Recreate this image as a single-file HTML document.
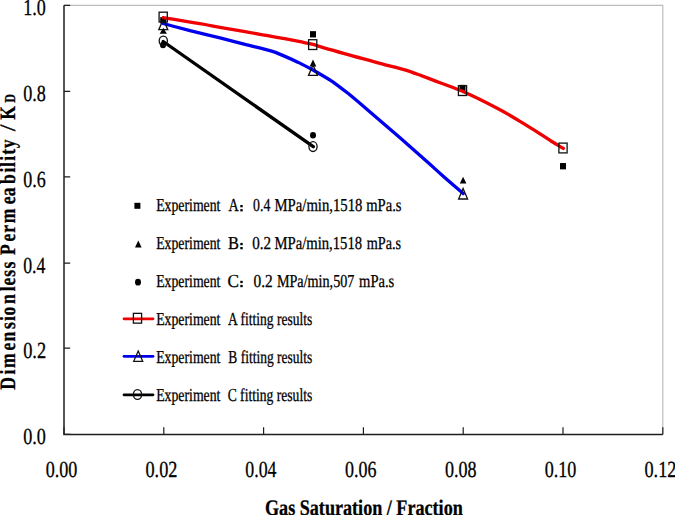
<!DOCTYPE html>
<html><head><meta charset="utf-8"><style>
html,body{margin:0;padding:0;background:#fff;}
svg{display:block;}
text{font-family:"Liberation Serif",serif;fill:#000;stroke:#000;stroke-width:0.3px;text-rendering:geometricPrecision;}
</style></head><body>
<svg width="675" height="515" viewBox="0 0 675 515">
<path d="M64.0 5.3H662.8V434.4" fill="none" stroke="#bdbdbd" stroke-width="1.2"/>
<path d="M64.0 5.3V434.4H662.8" fill="none" stroke="#1e1e1e" stroke-width="1.5"/>
<path d="M64.0 434.40h6.2 M64.0 348.20h6.2 M64.0 263.20h6.2 M64.0 176.90h6.2 M64.0 91.40h6.2 M64.0 5.30h6.2 M64.00 434.4v-7.2 M163.80 434.4v-7.2 M263.60 434.4v-7.2 M363.40 434.4v-7.2 M463.20 434.4v-7.2 M563.00 434.4v-7.2 M662.80 434.4v-7.2" stroke="#1e1e1e" stroke-width="1.2"/>
<text x="23.18" y="444.20" font-size="23" textLength="22.65" lengthAdjust="spacingAndGlyphs">0.0</text>
<text x="23.17" y="358.00" font-size="23" textLength="22.94" lengthAdjust="spacingAndGlyphs">0.2</text>
<text x="23.19" y="273.00" font-size="23" textLength="22.18" lengthAdjust="spacingAndGlyphs">0.4</text>
<text x="23.18" y="186.70" font-size="23" textLength="22.46" lengthAdjust="spacingAndGlyphs">0.6</text>
<text x="23.18" y="101.20" font-size="23" textLength="22.65" lengthAdjust="spacingAndGlyphs">0.8</text>
<text x="23.27" y="15.10" font-size="23" textLength="22.56" lengthAdjust="spacingAndGlyphs">1.0</text>
<text x="45.68" y="477.00" font-size="23" textLength="31.65" lengthAdjust="spacingAndGlyphs">0.00</text>
<text x="145.47" y="477.00" font-size="23" textLength="31.93" lengthAdjust="spacingAndGlyphs">0.02</text>
<text x="245.29" y="477.00" font-size="23" textLength="31.18" lengthAdjust="spacingAndGlyphs">0.04</text>
<text x="345.08" y="477.00" font-size="23" textLength="31.46" lengthAdjust="spacingAndGlyphs">0.06</text>
<text x="444.88" y="477.00" font-size="23" textLength="31.65" lengthAdjust="spacingAndGlyphs">0.08</text>
<text x="544.68" y="477.00" font-size="23" textLength="31.65" lengthAdjust="spacingAndGlyphs">0.10</text>
<text x="644.47" y="477.00" font-size="23" textLength="31.93" lengthAdjust="spacingAndGlyphs">0.12</text>
<text x="264.99" y="514.90" font-size="22.2" font-weight="bold" textLength="197.81" lengthAdjust="spacingAndGlyphs">Gas Saturation / Fraction</text>
<rect x="160.20" y="17.15" width="6" height="6.3" fill="#000"/>
<rect x="310.00" y="31.15" width="6" height="6.3" fill="#000"/>
<rect x="459.50" y="84.85" width="6" height="6.3" fill="#000"/>
<rect x="560.00" y="163.05" width="6" height="6.3" fill="#000"/>
<path d="M163.30 27.80L166.90 33.80H159.70Z" fill="#000"/>
<path d="M313.00 59.40L316.30 66.50H309.70Z" fill="#000"/>
<path d="M463.10 176.70L466.40 183.60H459.80Z" fill="#000"/>
<ellipse cx="163.00" cy="45.00" rx="3" ry="3.3" fill="#000"/>
<ellipse cx="313.00" cy="135.30" rx="3" ry="3.3" fill="#000"/>
<path d="M163.2,17.6C177.13,19.90 191.07,22.03 205,24.5C210.00,25.44 215.00,26.45 220,27.4C233.33,29.82 246.67,31.95 260,34.3C273.33,36.72 286.67,39.10 300,41.7C304.33,42.59 308.67,43.32 313,44.4C315.33,45.08 317.67,45.87 320,46.6C340.00,52.57 360.00,57.87 380,63.4C390.10,66.15 400.20,68.55 410.3,71.6C420.20,75.00 430.10,78.97 440,82.7C447.50,85.55 455.00,88.22 462.5,91.3C468.87,94.14 475.23,97.21 481.6,100.3C489.40,104.24 497.20,108.25 505,112.5C510.00,115.36 515.00,118.32 520,121.3C525.17,124.45 530.33,127.65 535.5,130.9C540.67,134.22 545.83,137.72 551,141C555.10,143.52 559.20,145.93 563.3,148.4" fill="none" stroke="#f00000" stroke-width="3.3" stroke-linejoin="round" stroke-linecap="round"/>
<path d="M163.2,23.5C172.13,25.90 181.07,28.37 190,30.7C200.00,33.15 210.00,35.36 220,37.8C228.33,39.95 236.67,42.20 245,44.4C255.17,47.07 265.33,49.22 275.5,52.4C283.10,55.45 290.70,58.89 298.3,62.4C303.20,64.86 308.10,67.38 313,70C319.50,73.72 326.00,77.44 332.5,81.6C338.07,85.62 343.63,89.97 349.2,94.3C357.60,101.21 366.00,108.54 374.4,115.7C382.93,123.04 391.47,130.39 400,137.8C410.00,146.58 420.00,155.38 430,164.3C434.40,168.28 438.80,172.34 443.2,176.3C449.87,182.16 456.53,187.83 463.2,193.6" fill="none" stroke="#0000f0" stroke-width="3.3" stroke-linejoin="round" stroke-linecap="round"/>
<path d="M163.2,41.5L313.3,146.7" fill="none" stroke="#000" stroke-width="3.3" stroke-linecap="round"/>
<rect x="159.10" y="12.20" width="8.2" height="9.8" fill="none" stroke="#111" stroke-width="1.3"/>
<rect x="308.60" y="39.70" width="8.2" height="9.8" fill="none" stroke="#111" stroke-width="1.3"/>
<rect x="458.40" y="85.70" width="8.2" height="9.8" fill="none" stroke="#111" stroke-width="1.3"/>
<rect x="558.90" y="143.10" width="8.2" height="9.8" fill="none" stroke="#111" stroke-width="1.3"/>
<path d="M163.30 19.15L167.80 29.65H158.80Z" fill="none" stroke="#111" stroke-width="1.3" stroke-linejoin="miter"/>
<path d="M313.00 64.95L317.50 75.45H308.50Z" fill="none" stroke="#111" stroke-width="1.3" stroke-linejoin="miter"/>
<path d="M463.10 188.50L467.60 199.00H458.60Z" fill="none" stroke="#111" stroke-width="1.3" stroke-linejoin="miter"/>
<ellipse cx="163.30" cy="41.00" rx="4.1" ry="4.9" fill="none" stroke="#111" stroke-width="1.3"/>
<ellipse cx="313.00" cy="146.60" rx="4.1" ry="4.9" fill="none" stroke="#111" stroke-width="1.3"/>
<rect x="134.40" y="202.80" width="6" height="6" fill="#000"/>
<path d="M138.30 240.40L141.60 247.60H135.00Z" fill="#000"/>
<ellipse cx="138.00" cy="282.20" rx="3" ry="3.4" fill="#000"/>
<text x="156.19" y="211.40" font-size="18.3" textLength="64.25" lengthAdjust="spacingAndGlyphs">Experiment</text>
<text x="156.19" y="249.30" font-size="18.3" textLength="64.25" lengthAdjust="spacingAndGlyphs">Experiment</text>
<text x="156.19" y="287.20" font-size="18.3" textLength="64.25" lengthAdjust="spacingAndGlyphs">Experiment</text>
<text x="156.19" y="325.10" font-size="18.3" textLength="64.25" lengthAdjust="spacingAndGlyphs">Experiment</text>
<text x="156.19" y="363.00" font-size="18.3" textLength="64.25" lengthAdjust="spacingAndGlyphs">Experiment</text>
<text x="156.19" y="400.90" font-size="18.3" textLength="64.25" lengthAdjust="spacingAndGlyphs">Experiment</text>
<text x="228.46" y="211.40" font-size="18.3" textLength="10.24" lengthAdjust="spacingAndGlyphs">A</text>
<rect x="240.3" y="205.00" width="2.4" height="2.3" fill="#000"/><rect x="240.3" y="209.10" width="2.4" height="2.3" fill="#000"/>
<text x="227.91" y="249.30" font-size="18.3" textLength="10.97" lengthAdjust="spacingAndGlyphs">B</text>
<rect x="240.3" y="242.90" width="2.4" height="2.3" fill="#000"/><rect x="240.3" y="247.00" width="2.4" height="2.3" fill="#000"/>
<text x="227.51" y="287.20" font-size="18.3" textLength="11.47" lengthAdjust="spacingAndGlyphs">C</text>
<rect x="240.3" y="280.80" width="2.4" height="2.3" fill="#000"/><rect x="240.3" y="284.90" width="2.4" height="2.3" fill="#000"/>
<text x="253.05" y="211.40" font-size="18.3" textLength="17.26" lengthAdjust="spacingAndGlyphs">0.4</text>
<text x="274.46" y="211.40" font-size="18.3" textLength="88.00" lengthAdjust="spacingAndGlyphs">MPa/min,1518</text>
<text x="366.21" y="211.40" font-size="18.3" textLength="35.26" lengthAdjust="spacingAndGlyphs">mPa.s</text>
<text x="252.30" y="249.30" font-size="18.3" textLength="18.83" lengthAdjust="spacingAndGlyphs">0.2</text>
<text x="274.46" y="249.30" font-size="18.3" textLength="87.69" lengthAdjust="spacingAndGlyphs">MPa/min,1518</text>
<text x="366.72" y="249.30" font-size="18.3" textLength="34.34" lengthAdjust="spacingAndGlyphs">mPa.s</text>
<text x="253.48" y="287.20" font-size="18.3" textLength="19.26" lengthAdjust="spacingAndGlyphs">0.2</text>
<text x="276.88" y="287.20" font-size="18.3" textLength="77.52" lengthAdjust="spacingAndGlyphs">MPa/min,507</text>
<text x="359.11" y="287.20" font-size="18.3" textLength="35.16" lengthAdjust="spacingAndGlyphs">mPa.s</text>
<text x="228.06" y="325.10" font-size="18.3" textLength="84.17" lengthAdjust="spacingAndGlyphs">A fitting results</text>
<text x="228.30" y="363.00" font-size="18.3" textLength="83.94" lengthAdjust="spacingAndGlyphs">B fitting results</text>
<text x="227.66" y="400.90" font-size="18.3" textLength="84.58" lengthAdjust="spacingAndGlyphs">C fitting results</text>
<path d="M124 318.8H153" stroke="#f00000" stroke-width="2.8" stroke-linecap="round"/>
<path d="M124 356.3H153" stroke="#0000f0" stroke-width="2.8" stroke-linecap="round"/>
<path d="M124 394.8H153" stroke="#000" stroke-width="2.8" stroke-linecap="round"/>
<rect x="133.40" y="313.35" width="8.2" height="9.8" fill="none" stroke="#111" stroke-width="1.3"/>
<path d="M138.20 351.10L142.70 361.30H133.70Z" fill="none" stroke="#111" stroke-width="1.3" stroke-linejoin="miter"/>
<ellipse cx="137.50" cy="394.50" rx="4.1" ry="4.9" fill="none" stroke="#111" stroke-width="1.3"/>
<g transform="translate(14.9 400) rotate(-90)"><text x="10.13" y="0" font-size="22" font-weight="bold" textLength="12.71" lengthAdjust="spacingAndGlyphs">D</text><text x="25.59" y="0" font-size="22" font-weight="bold" textLength="4.89" lengthAdjust="spacingAndGlyphs">i</text><text x="32.01" y="0" font-size="22" font-weight="bold" textLength="14.66" lengthAdjust="spacingAndGlyphs">m</text><text x="49.50" y="0" font-size="22" font-weight="bold" textLength="7.81" lengthAdjust="spacingAndGlyphs">e</text><text x="58.58" y="0" font-size="22" font-weight="bold" textLength="9.79" lengthAdjust="spacingAndGlyphs">n</text><text x="71.02" y="0" font-size="22" font-weight="bold" textLength="6.85" lengthAdjust="spacingAndGlyphs">s</text><text x="78.94" y="0" font-size="22" font-weight="bold" textLength="4.89" lengthAdjust="spacingAndGlyphs">i</text><text x="84.55" y="0" font-size="22" font-weight="bold" textLength="8.80" lengthAdjust="spacingAndGlyphs">o</text><text x="95.98" y="0" font-size="22" font-weight="bold" textLength="9.79" lengthAdjust="spacingAndGlyphs">n</text><text x="108.69" y="0" font-size="22" font-weight="bold" textLength="4.89" lengthAdjust="spacingAndGlyphs">l</text><text x="114.60" y="0" font-size="22" font-weight="bold" textLength="7.81" lengthAdjust="spacingAndGlyphs">e</text><text x="123.32" y="0" font-size="22" font-weight="bold" textLength="6.85" lengthAdjust="spacingAndGlyphs">s</text><text x="131.52" y="0" font-size="22" font-weight="bold" textLength="6.85" lengthAdjust="spacingAndGlyphs">s</text><text x="145.02" y="0" font-size="22" font-weight="bold" textLength="10.75" lengthAdjust="spacingAndGlyphs">P</text><text x="158.45" y="0" font-size="22" font-weight="bold" textLength="7.81" lengthAdjust="spacingAndGlyphs">e</text><text x="167.19" y="0" font-size="22" font-weight="bold" textLength="7.81" lengthAdjust="spacingAndGlyphs">r</text><text x="176.86" y="0" font-size="22" font-weight="bold" textLength="14.66" lengthAdjust="spacingAndGlyphs">m</text><text x="195.75" y="0" font-size="22" font-weight="bold" textLength="7.81" lengthAdjust="spacingAndGlyphs">e</text><text x="203.72" y="0" font-size="22" font-weight="bold" textLength="8.80" lengthAdjust="spacingAndGlyphs">a</text><text x="215.98" y="0" font-size="22" font-weight="bold" textLength="9.79" lengthAdjust="spacingAndGlyphs">b</text><text x="227.44" y="0" font-size="22" font-weight="bold" textLength="4.89" lengthAdjust="spacingAndGlyphs">i</text><text x="233.09" y="0" font-size="22" font-weight="bold" textLength="4.89" lengthAdjust="spacingAndGlyphs">l</text><text x="239.34" y="0" font-size="22" font-weight="bold" textLength="4.89" lengthAdjust="spacingAndGlyphs">i</text><text x="245.26" y="0" font-size="22" font-weight="bold" textLength="5.86" lengthAdjust="spacingAndGlyphs">t</text><text x="251.80" y="0" font-size="22" font-weight="bold" textLength="8.80" lengthAdjust="spacingAndGlyphs">y</text><text x="268.80" y="0.00" font-size="22" textLength="6.77" lengthAdjust="spacingAndGlyphs">/</text><text x="280.24" y="0" font-size="22" font-weight="bold" textLength="13.69" lengthAdjust="spacingAndGlyphs">K</text><text x="297.22" y="0.00" font-size="15.2" font-weight="bold" textLength="8.86" lengthAdjust="spacingAndGlyphs">D</text></g>
</svg>
</body></html>
